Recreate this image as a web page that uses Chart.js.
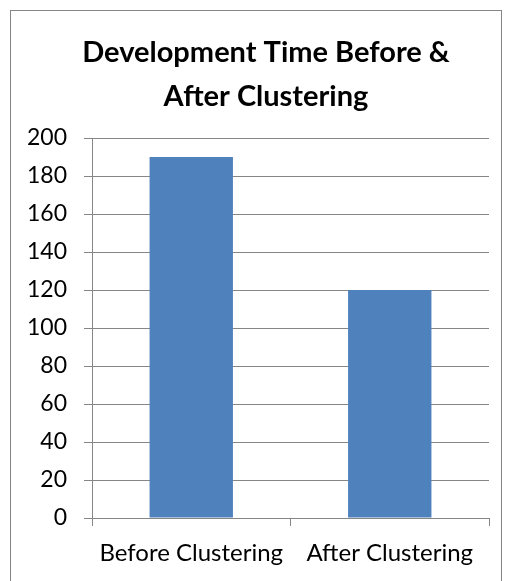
<!DOCTYPE html>
<html>
<head>
<meta charset="utf-8">
<script src="https://cdn.jsdelivr.net/npm/chart.js@4.4.0/dist/chart.umd.min.js"></script>
<style>
  body { margin: 0; background: #fff; }
  canvas { display: block; }
</style>
</head>
<body>
<canvas id="barChart" width="505" height="581"></canvas>
<script>
const categories = ['Before Clustering', 'After Clustering']
const devTime = [190, 120]
const titleLines = ['Development Time Before &', 'After Clustering']

const gridGray = '#868686'

// frame round the whole chart, like the office chart border
const framePlugin = {
    id: 'frame',
    beforeDraw(chart) {
        const c = chart.ctx
        c.save()
        c.fillStyle = '#fff'
        c.fillRect(0, 0, chart.width, chart.height)
        c.strokeStyle = gridGray
        c.lineWidth = 1
        c.strokeRect(10.5, 10.5, 491, 620)
        c.restore()
    }
}

// the original title sits a bit right of the canvas centre
const titleShift = {
    id: 'titleShift',
    afterLayout(chart) {
        if (chart.titleBlock) chart.titleBlock.left = 43
    }
}

const ctx = document.getElementById('barChart').getContext('2d')

const config = {
    type: 'bar',
    data: {
        labels: categories,
        datasets: [{
            data: devTime,
            backgroundColor: '#4F81BD',
            categoryPercentage: 1,
            barPercentage: 0.42,
        }]
    },
    options: {
        responsive: false,
        devicePixelRatio: 1,
        animation: false,
        layout: { padding: { left: 0, right: 16, top: 0, bottom: 0 } },
        plugins: {
            legend: { display: false },
            tooltip: { enabled: false },
            title: {
                display: true,
                text: titleLines,
                color: '#000',
                font: { family: 'Lato', size: 29, weight: 'bold', lineHeight: 1.5 },
                padding: { top: 31, bottom: 20 },
            },
        },
        scales: {
            x: {
                grid: { drawOnChartArea: false, drawTicks: true, tickLength: 8, color: gridGray },
                border: { color: gridGray },
                ticks: { color: '#000', font: { family: 'Lato', size: 24 }, padding: 13, maxRotation: 0 },
                afterFit(scale) { scale.height = 63 },
            },
            y: {
                min: 0,
                max: 200,
                grid: { color: gridGray, tickLength: 8 },
                border: { color: gridGray },
                ticks: { stepSize: 20, color: '#000', font: { family: 'Lato', size: 23 }, padding: 17 },
                afterFit(scale) { scale.width = 92 },
            },
        },
    },
    plugins: [framePlugin, titleShift],
}

const myChart = new Chart(ctx, config)
</script>
</body>
</html>
